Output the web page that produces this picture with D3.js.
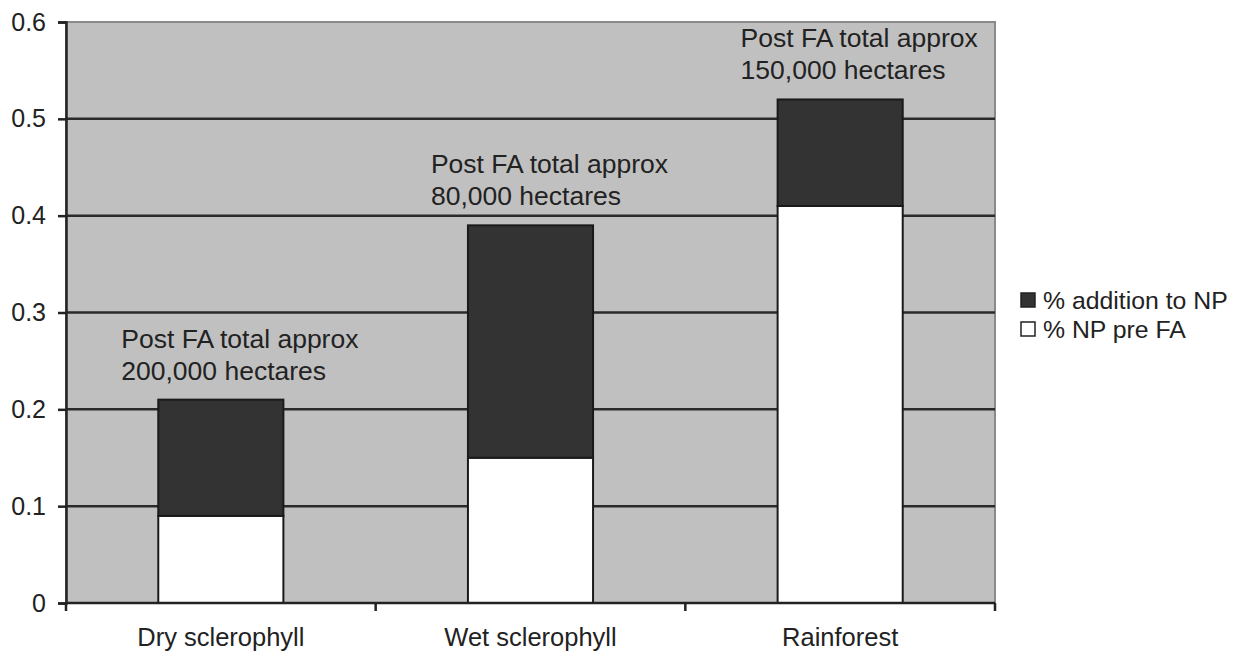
<!DOCTYPE html>
<html>
<head>
<meta charset="utf-8">
<script src="https://cdn.jsdelivr.net/npm/d3@7"></script>
<style>
body { margin: 0; background: #fff; }
text { font-family: "Liberation Sans", Arial, sans-serif; fill: #222; }
</style>
</head>
<body>
<div class="chart"></div>
<script>
var categories = ["Dry sclerophyll", "Wet sclerophyll", "Rainforest"];
var npPreFA = [0.09, 0.15, 0.41];
var additionToNP = [0.12, 0.24, 0.11];
var notes = [["Post FA total approx", "200,000 hectares"],
             ["Post FA total approx", "80,000 hectares"],
             ["Post FA total approx", "150,000 hectares"]];
var yTicks = [0, 0.1, 0.2, 0.3, 0.4, 0.5, 0.6];
var seriesNames = ["% addition to NP", "% NP pre FA"];

var width = 1241, height = 657;
var plotLeft = 66, plotRight = 995, plotTop = 22, plotBottom = 603;

var darkColor = '#333333'
var lightColor = '#ffffff'
var bgColor = '#c0c0c0'

var svg = d3.select(".chart")
    .append("svg")
    .attr("width", width)
    .attr("height", height);

var x = d3.scaleBand()
    .domain(categories)
    .range([plotLeft, plotRight])
    .paddingInner(0.596)
    .paddingOuter(0.298);

var y = d3.scaleLinear()
    .domain([0, 0.6])
    .range([plotBottom, plotTop]);

// plot background
svg.append("rect")
    .attr("x", plotLeft)
    .attr("y", plotTop)
    .attr("width", plotRight - plotLeft)
    .attr("height", plotBottom - plotTop)
    .style("fill", bgColor)
    .style("stroke", "#8a8a8a")
    .style("stroke-width", 2);

// grid lines
svg.selectAll(".grid")
    .data(yTicks.filter(function (d) { return d > 0 && d < 0.6; }))
    .enter()
    .append("line")
    .attr("x1", plotLeft)
    .attr("x2", plotRight)
    .attr("y1", function (d) { return y(d); })
    .attr("y2", function (d) { return y(d); })
    .style("stroke", "#2a2a2a")
    .style("stroke-width", 2.5);

var stacks = d3.stack().keys(["pre", "add"])(categories.map(function (c, i) {
    return { cat: c, pre: npPreFA[i], add: additionToNP[i] };
}));
var fills = { pre: lightColor, add: darkColor };

stacks.forEach(function (layer) {
    svg.selectAll(".bar-" + layer.key)
        .data(layer)
        .enter()
        .append("rect")
        .attr("x", function (d) { return x(d.data.cat); })
        .attr("width", x.bandwidth())
        .attr("y", function (d) { return y(d[1]); })
        .attr("height", function (d) { return y(d[0]) - y(d[1]); })
        .style("fill", fills[layer.key])
        .style("stroke", "#1a1a1a")
        .style("stroke-width", 2);
});

// y axis
var yAxis = d3.axisLeft(y)
    .tickValues(yTicks)
    .tickFormat(function (d) { return d === 0 ? "0" : d3.format(".1f")(d); })
    .tickSize(8)
    .tickPadding(12);

var gy = svg.append("g")
    .attr("transform", "translate(" + plotLeft + ",0)")
    .call(yAxis);
gy.select(".domain").style("stroke", "#222").style("stroke-width", 2.5);
gy.selectAll(".tick line").style("stroke", "#222").style("stroke-width", 2.5);
gy.selectAll("text").style("font-size", "25px").style("fill", "#222").style("font-family", "Liberation Sans, Arial, sans-serif");

// x axis
var gx = svg.append("g")
    .attr("transform", "translate(0," + plotBottom + ")");
gx.append("line")
    .attr("x1", plotLeft).attr("x2", plotRight)
    .style("stroke", "#222").style("stroke-width", 2.5);
var edges = [plotLeft].concat(categories.map(function (c) { return x(c) + x.bandwidth() / 2 + x.step() / 2; }));
gx.selectAll(".xt")
    .data(edges)
    .enter()
    .append("line")
    .attr("x1", function (d) { return d; })
    .attr("x2", function (d) { return d; })
    .attr("y1", 0).attr("y2", 8)
    .style("stroke", "#222").style("stroke-width", 2.5);
gx.selectAll(".xl")
    .data(categories)
    .enter()
    .append("text")
    .attr("x", function (d) { return x(d) + x.bandwidth() / 2; })
    .attr("y", 43)
    .attr("text-anchor", "middle")
    .style("font-size", "25.5px")
    .text(function (d) { return d; });

// annotations above bars
categories.forEach(function (c, i) {
    var topY = y(npPreFA[i] + additionToNP[i]);
    var t = svg.append("text")
        .attr("y", topY - 52)
        .style("font-size", "26.5px");
    t.append("tspan").attr("x", x(c) - 37).attr("dy", 0).text(notes[i][0]);
    t.append("tspan").attr("x", x(c) - 37).attr("dy", 32).text(notes[i][1]);
});

// legend
var legend = svg.append("g").attr("transform", "translate(1021,290)");
seriesNames.forEach(function (s, i) {
    legend.append("rect")
        .attr("x", 0)
        .attr("y", i * 29 + 3)
        .attr("width", 14)
        .attr("height", 14)
        .style("fill", i === 0 ? darkColor : lightColor)
        .style("stroke", "#222")
        .style("stroke-width", 1.5);
    legend.append("text")
        .attr("x", 22)
        .attr("y", i * 29 + 19)
        .style("font-size", "24.8px")
        .text(s);
});
</script>
</body>
</html>
